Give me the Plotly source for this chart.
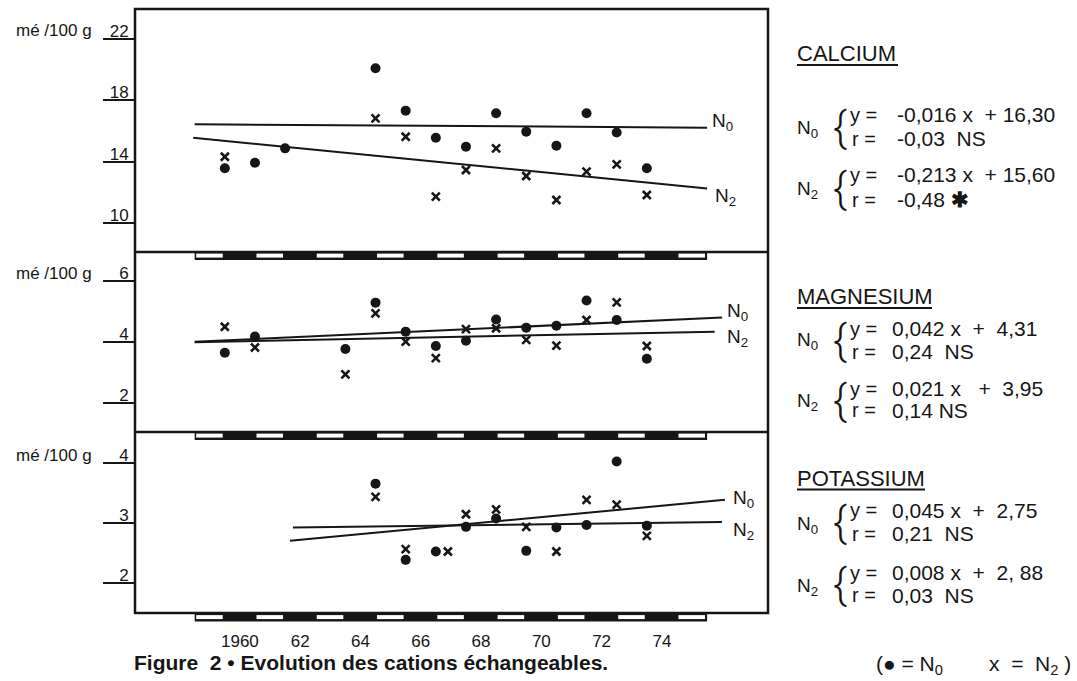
import plotly.graph_objects as go

# ---------------- data ----------------
YEARS = [1959.5, 1960.5, 1961.5, 1962.5, 1963.5, 1964.5, 1965.5, 1966.5,
         1967.5, 1968.5, 1969.5, 1970.5, 1971.5, 1972.5, 1973.5]

CA_N0 = [13.57, 13.93, 14.87, None, None, 20.09, 17.33, 15.56, 14.98, 17.16, 15.96, 15.04, 17.16, 15.91, 13.57]
CA_N2 = [14.32, None, None, None, None, 16.83, 15.63, 11.72, 13.46, 14.87, 13.07, 11.50, 13.35, 13.83, 11.83]

MG_N0 = [3.66, 4.19, None, None, 3.78, 5.30, 4.35, 3.88, 4.05, 4.75, 4.48, 4.54, 5.37, 4.73, 3.46]
MG_N2 = [4.51, 3.83, None, None, 2.95, 4.95, 4.02, 3.48, 4.43, 4.46, 4.08, 3.89, 4.73, 5.31, 3.88]

K_N0 = [None, None, None, None, None, 3.65, 2.38, 2.52, 2.93, 3.07, 2.53, 2.92, 2.96, 4.02, 2.95]
K_N2_YEARS = [1964.5, 1965.5, 1966.9, 1967.5, 1968.5, 1969.5, 1970.5, 1971.5, 1972.5, 1973.5]
K_N2 = [3.43, 2.56, 2.52, 3.14, 3.22, 2.93, 2.52, 3.38, 3.30, 2.78]

# regression lines: end points as drawn
CA_N0_FIT_X = [1958.5, 1975.5]
CA_N0_FIT_Y = [16.44, 16.22]
CA_N2_FIT_X = [1958.45, 1975.5]
CA_N2_FIT_Y = [15.56, 12.26]
MG_N0_FIT_X = [1958.5, 1976.0]
MG_N0_FIT_Y = [4.02, 4.81]
MG_N2_FIT_X = [1958.5, 1975.75]
MG_N2_FIT_Y = [4.00, 4.35]
K_N0_FIT_X = [1961.66, 1976.09]
K_N0_FIT_Y = [2.70, 3.38]
K_N2_FIT_X = [1961.76, 1975.99]
K_N2_FIT_Y = [2.92, 3.01]

# line labels (position of the N0 / N2 tags, data units)
CA_LABEL_X = [1975.6, 1975.7]
CA_LABEL_Y = [16.59, 11.70]
MG_LABEL_X = [1976.1, 1976.1]
MG_LABEL_Y = [4.99, 4.14]
K_LABEL_X = [1976.3, 1976.3]
K_LABEL_Y = [3.40, 2.86]

# axes
CA_TICKS = [10, 14, 18, 22]
MG_TICKS = [2, 4, 6]
K_TICKS = [2, 3, 4]
X_TICKS = [1960, 1962, 1964, 1966, 1968, 1970, 1972, 1974]
X_TICKTEXT = ["1960", "62", "64", "66", "68", "70", "72", "74"]
BAR_START = 1958.5
BAR_END = 1975.5

# equations
ELEMENTS = ["CALCIUM", "MAGNESIUM", "POTASSIUM"]
EQ_Y = [["-0,016 x  + 16,30", "-0,213 x  + 15,60"],
        ["0,042 x  +  4,31", "0,021 x   +  3,95"],
        ["0,045 x  +  2,75", "0,008 x  +  2, 88"]]
EQ_R = [["-0,03  NS", "-0,48"],
        ["0,24  NS", "0,14 NS"],
        ["0,21  NS", "0,03  NS"]]
EQ_STAR = [[False, True], [False, False], [False, False]]

# ---------------- geometry ----------------
FIG_W, FIG_H = 1077, 681
L, R, T, B = 135, 768, 9, 613
PW, PH = R - L, B - T
INK = "#161616"
FONT = "Liberation Sans, Arial, Helvetica, sans-serif"


def px(x):
    return (x - L) / PW


def py(y):
    return (B - y) / PH


D_CA = [py(252), 1.0]
D_MG = [py(432), py(252)]
D_K = [0.0, py(432)]

fig = go.Figure()

dot = dict(symbol="circle", size=10, color=INK)
cross = dict(symbol="x-thin", size=8, line=dict(color=INK, width=2.6))
fitline = dict(color=INK, width=2)

panels = [
    ("y", CA_N0, YEARS, CA_N2, YEARS, CA_N0_FIT_X, CA_N0_FIT_Y, CA_N2_FIT_X, CA_N2_FIT_Y),
    ("y2", MG_N0, YEARS, MG_N2, YEARS, MG_N0_FIT_X, MG_N0_FIT_Y, MG_N2_FIT_X, MG_N2_FIT_Y),
    ("y3", K_N0, YEARS, K_N2, K_N2_YEARS, K_N0_FIT_X, K_N0_FIT_Y, K_N2_FIT_X, K_N2_FIT_Y),
]
for yax, n0, x0s, n2, x2s, f0x, f0y, f2x, f2y in panels:
    fig.add_trace(go.Scatter(x=f0x, y=f0y, mode="lines", line=fitline, yaxis=yax, name="N0 fit"))
    fig.add_trace(go.Scatter(x=f2x, y=f2y, mode="lines", line=fitline, yaxis=yax, name="N2 fit"))
    fig.add_trace(go.Scatter(x=x0s, y=n0, mode="markers", marker=dot, yaxis=yax, name="N0"))
    fig.add_trace(go.Scatter(x=x2s, y=n2, mode="markers", marker=cross, yaxis=yax, name="N2"))

shapes = []
# frame and panel separators
shapes.append(dict(type="rect", xref="paper", yref="paper", x0=0, x1=1, y0=0, y1=1,
                   line=dict(color=INK, width=2.5), fillcolor="rgba(0,0,0,0)"))
for yy in (py(252), py(432)):
    shapes.append(dict(type="line", xref="paper", yref="paper", x0=0, x1=1, y0=yy, y1=yy,
                       line=dict(color=INK, width=2.5)))
# hatched year bars
for top in (252, 432, 613.5):
    shapes.append(dict(type="rect", xref="x", yref="paper", x0=BAR_START, x1=BAR_END,
                       y0=py(top + 8), y1=py(top), line=dict(width=0), fillcolor=INK))
    w = BAR_START
    while w < BAR_END - 0.5:
        shapes.append(dict(type="rect", xref="x", yref="paper", x0=w + 0.05, x1=w + 0.93,
                           y0=py(top + 5.6), y1=py(top + 1.6), line=dict(width=0), fillcolor="white"))
        w += 2
# underlines of element names
for y_ul, x_end in ((65, 898), (308, 932), (489.5, 925)):
    shapes.append(dict(type="line", xref="paper", yref="paper", x0=px(797), x1=px(x_end),
                       y0=py(y_ul), y1=py(y_ul), line=dict(color=INK, width=2.2)))

ann = []


def text(x, y, s, size=19, xanchor="left", yanchor="middle", xref="paper", yref="paper",
         family=FONT, weight="normal"):
    ann.append(dict(x=x, y=y, xref=xref, yref=yref, text=s, showarrow=False,
                    xanchor=xanchor, yanchor=yanchor,
                    font=dict(family=family, size=size, color=INK, weight=weight)))


# unit labels
for yc in (31, 273, 455):
    text(px(94), py(yc), "mé /100 g", size=17, xanchor="right")

# N0 / N2 line tags
for yref, lx, ly in (("y", CA_LABEL_X, CA_LABEL_Y), ("y2", MG_LABEL_X, MG_LABEL_Y), ("y3", K_LABEL_X, K_LABEL_Y)):
    text(lx[0], ly[0], "N<sub>0</sub>", size=19, xref="x", yref=yref)
    text(lx[1], ly[1], "N<sub>2</sub>", size=19, xref="x", yref=yref)

# right-hand equations
blocks = [
    dict(title_y=53, lab=[129, 190], l1=[114.5, 174.5], l2=[138.5, 199.5], vx=895),
    dict(title_y=296.5, lab=[341, 401.5], l1=[328.5, 388.5], l2=[351.5, 410], vx=890),
    dict(title_y=478.5, lab=[525, 586.5], l1=[510, 572.5], l2=[533.5, 595], vx=890),
]
for i, b in enumerate(blocks):
    text(px(795), py(b["title_y"]), ELEMENTS[i], size=22)
    for j in range(2):
        text(px(795), py(b["lab"][j]), "N<sub>%d</sub>" % (0 if j == 0 else 2), size=19)
        text(px(831), py((b["l1"][j] + b["l2"][j]) / 2 + 1), "{", size=42,
             family="Roboto, Liberation Sans, sans-serif", weight=300)
        text(px(848), py(b["l1"][j]), "y =", size=20)
        text(px(850), py(b["l2"][j]), "r =", size=20)
        text(px(b["vx"]), py(b["l1"][j]), EQ_Y[i][j], size=21)
        rs = EQ_R[i][j] + (" <b>✱</b>" if EQ_STAR[i][j] else "")
        text(px(b["vx"]), py(b["l2"][j]), rs, size=21)

# legend
text(px(874), py(665), "(● = N<sub>0</sub>", size=21)
text(px(987), py(665), "x  =  N<sub>2</sub> )", size=21)
# caption
text(px(132), py(662), "<b>Figure  2 • Evolution des cations échangeables.</b>", size=21)

fig.update_layout(
    width=FIG_W, height=FIG_H,
    margin=dict(l=L, r=FIG_W - R, t=T, b=FIG_H - B, pad=0),
    paper_bgcolor="white", plot_bgcolor="white",
    showlegend=False,
    shapes=shapes, annotations=ann,
    font=dict(family=FONT, color=INK),
    xaxis=dict(range=[1956.52, 1977.52], anchor="y3", tickvals=X_TICKS, ticktext=X_TICKTEXT,
               ticks="outside", ticklen=13, tickcolor="rgba(0,0,0,0)",
               tickfont=dict(size=17, family=FONT, color=INK),
               showgrid=False, zeroline=False, showline=False),
    yaxis=dict(domain=D_CA, range=[8.11, 23.96], anchor="x", tickvals=CA_TICKS),
    yaxis2=dict(domain=D_MG, range=[1.06, 6.96], anchor="x", tickvals=MG_TICKS),
    yaxis3=dict(domain=D_K, range=[1.495, 4.51], anchor="x", tickvals=K_TICKS),
)
for ya in ("yaxis", "yaxis2", "yaxis3"):
    fig.layout[ya].update(ticks="outside", ticklen=31, tickwidth=2, tickcolor=INK,
                          tickfont=dict(size=17, family=FONT, color=INK),
                          ticklabelstandoff=-29, ticklabelshift=-8,
                          showgrid=False, zeroline=False, showline=False)

fig.write_html("out.html", config={"displayModeBar": False},
               post_script="document.body.style.margin='0px';")
